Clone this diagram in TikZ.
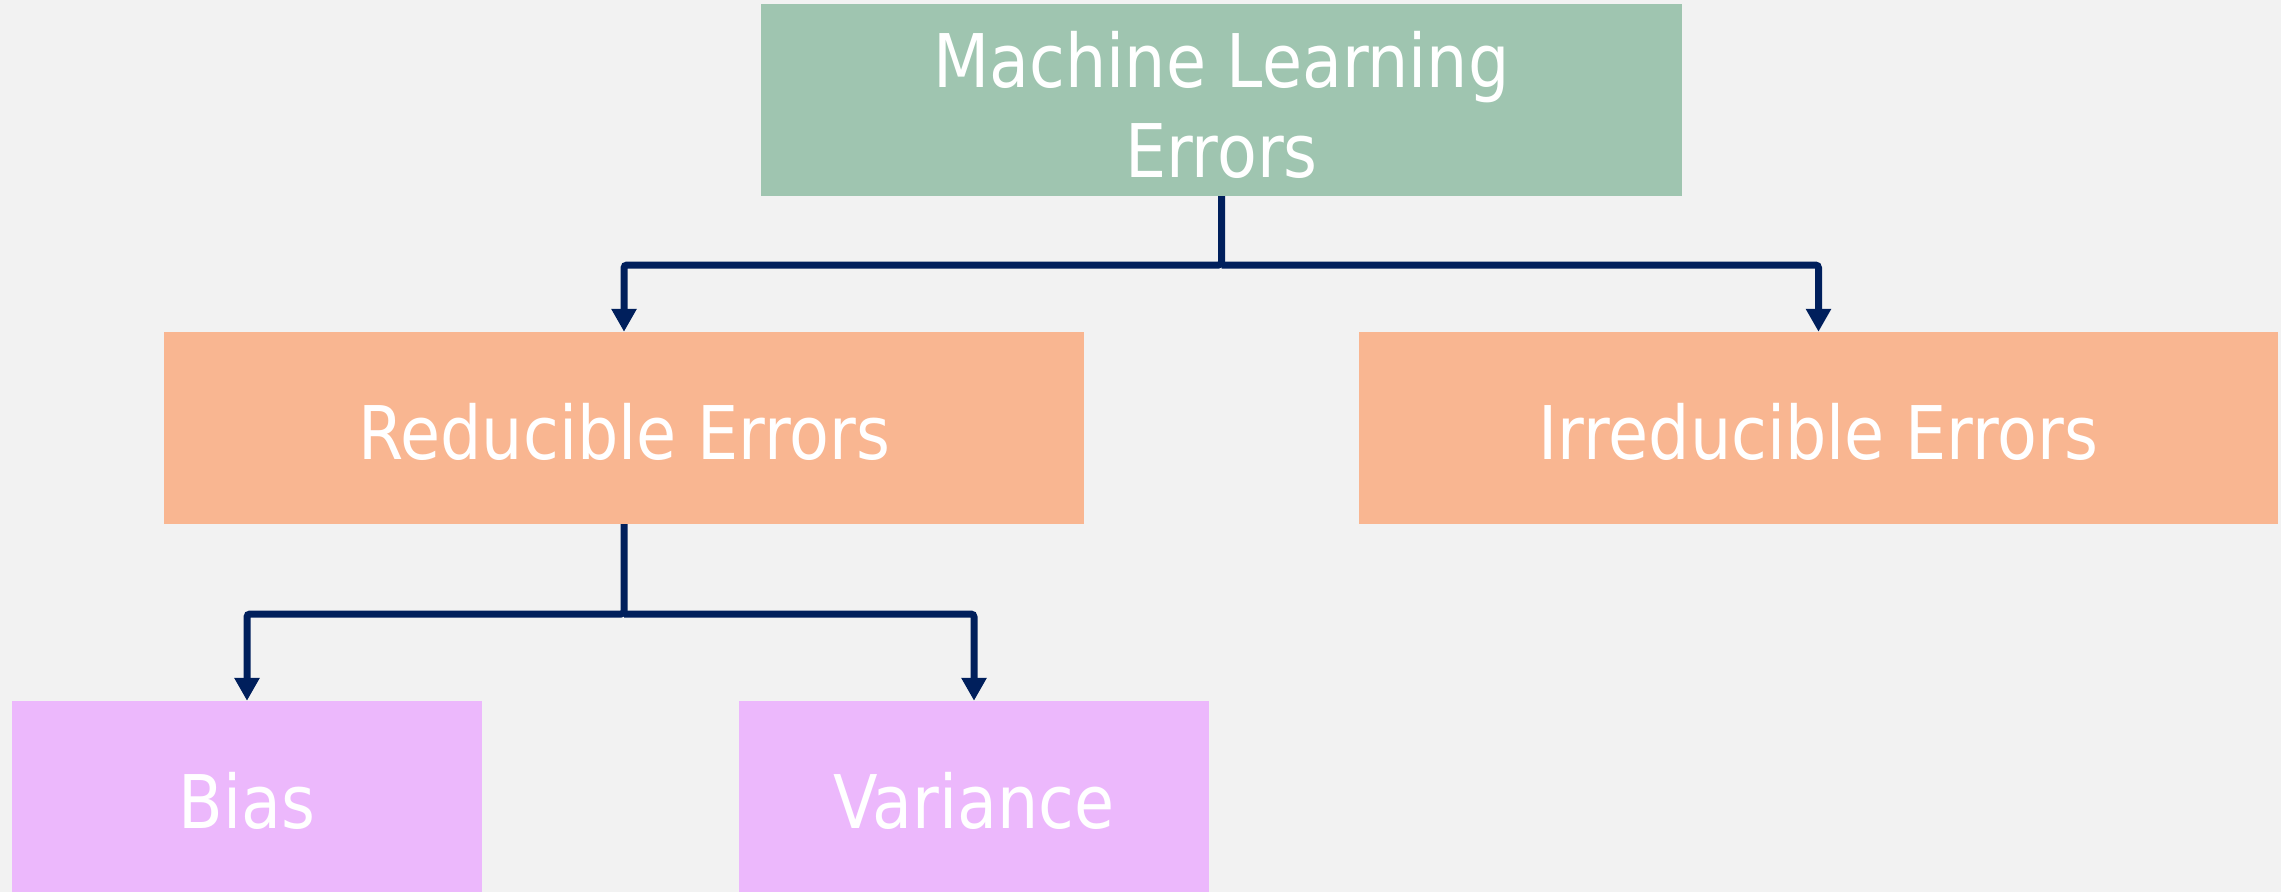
\documentclass[tikz,border=0pt]{standalone}
\usepackage{fontspec}
\setmainfont[FakeStretch=0.88]{DejaVu Sans}
\usetikzlibrary{arrows.meta}
\definecolor{bgc}{HTML}{F2F2F2}
\definecolor{greenc}{HTML}{9FC5B0}
\definecolor{peachc}{HTML}{F9B691}
\definecolor{lavc}{HTML}{ECB8FC}
\definecolor{navy}{HTML}{001F5C}
\tikzset{
  box/.style={draw=none, minimum width=#1, inner sep=0pt, text=white, align=center,
    text height=62pt, text depth=0pt,
    font=\fontsize{74}{90}\selectfont},
  conn/.style={draw=navy, line width=7pt, rounded corners=3pt,
    -{Triangle[width=24pt,length=23pt]}},
}
\begin{document}
\begin{tikzpicture}[x=1pt,y=-1pt]
\fill[bgc] (0,0) rectangle (2281,892);
\useasboundingbox (0,0) rectangle (2281,892);
\node[box=921pt, minimum height=192pt, fill=greenc, text height=154pt] (top) at (1221.5,100) {Machine Learning\\Errors};
\node[box=920pt, minimum height=192pt, fill=peachc] (red) at (624,428) {Reducible Errors};
\node[box=919pt, minimum height=192pt, fill=peachc] (irr) at (1818.5,428) {Irreducible Errors};
\node[box=470pt, minimum height=191pt, fill=lavc, text height=64pt] (bias) at (247,796.5) {Bias};
\node[box=470pt, minimum height=191pt, fill=lavc, text height=64pt] (var) at (974,796.5) {Variance};
\coordinate (j1) at (1221.5,265);
\coordinate (j2) at (624,614);
\draw[conn] (top.south) -- (j1) -| (red.north);
\draw[conn] (j1) -| (irr.north);
\draw[conn] (red.south) -- (j2) -| (bias.north);
\draw[conn] (j2) -| (var.north);
\end{tikzpicture}
\end{document}
